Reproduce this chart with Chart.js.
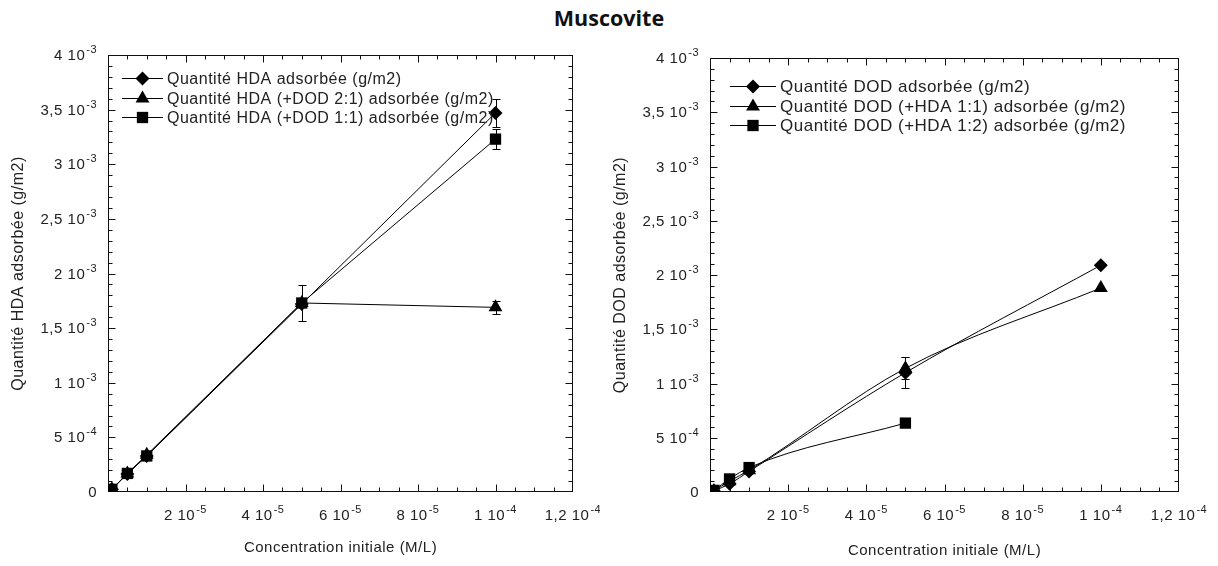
<!DOCTYPE html>
<html lang="fr">
<head>
<meta charset="UTF-8">
<title>Muscovite</title>
<script src="https://cdn.jsdelivr.net/npm/chart.js"></script>
<style>
  body { margin: 0; background: #fff; width: 1218px; height: 566px; position: relative; overflow: hidden; }
  h1 { position: absolute; top: 0; left: 0; width: 1218px; margin: 0; text-align: center;
       font: bold 21.5px "Open Sans", sans-serif; line-height: 36px; color: #111; }
  .graphe { position: absolute; top: 40px; height: 526px; }
  #gauche { left: 0; width: 600px; }
  #droite { left: 600px; width: 618px; }
</style>
</head>
<body>
<h1>Muscovite</h1>
<div class="graphe" id="gauche"><canvas id="chartHDA"></canvas></div>
<div class="graphe" id="droite"><canvas id="chartDOD"></canvas></div>

<script>
// concentrations initiales (M/L)
const concentrations = [1e-6, 5e-6, 1e-5, 5e-5, 1e-4];

// HDA adsorbée (g/m2)
const hdaSeul  = [2.5e-5, 1.65e-4, 3.3e-4, 1.72e-3, 3.47e-3];
const hdaDod21 = [2.5e-5, 1.7e-4, 3.4e-4, 1.73e-3, 1.69e-3];
const hdaDod11 = [2.5e-5, 1.7e-4, 3.3e-4, 1.73e-3, 3.23e-3];
const errHdaSeul  = [0, 0, 0, 0, 1.3e-4];
const errHdaDod21 = [0, 0, 0, 0, 6e-5];
const errHdaDod11 = [0, 0, 0, 1.65e-4, 9e-5];

// DOD adsorbée (g/m2)
const dodSeul  = [1e-5, 7.5e-5, 1.9e-4, 1.1e-3, 2.09e-3];
const dodHda11 = [1e-5, 1.0e-4, 2.0e-4, 1.14e-3, 1.88e-3];
const dodHda12 = [1.5e-5, 1.2e-4, 2.25e-4, 6.35e-4];
const errDodSeul  = [0, 0, 0, 1.4e-4, 0];
const errDodHda11 = [0, 0, 0, 1.0e-4, 0];

const legendeHDA = ["Quantité HDA adsorbée (g/m2)", "Quantité HDA (+DOD 2:1) adsorbée (g/m2)", "Quantité HDA (+DOD 1:1) adsorbée (g/m2)"];
const legendeDOD = ["Quantité DOD adsorbée (g/m2)", "Quantité DOD (+HDA 1:1) adsorbée (g/m2)", "Quantité DOD (+HDA 1:2) adsorbée (g/m2)"];

const xTicks = { min: 0, max: 1.2e-4, pas: 2e-5, mineur: 5e-6 };
const yTicks = { min: 0, max: 4e-3, pas: 5e-4, mineur: 1e-4 };

const POLICE = '"Liberation Sans", Arial, sans-serif';
const TEXTE = '#222';

// "3,5 10-3" -> mantisse + exposant (en exposant)
function notation(v) {
  if (Math.abs(v) < 1e-12) return ['0', ''];
  const e = Math.floor(Math.log10(Math.abs(v)) + 1e-9);
  const m = Math.round(v / Math.pow(10, e) * 10) / 10;
  return [String(m).replace('.', ',') + ' 10', String(e)];
}

function marqueur(ctx, style, x, y, r) {
  ctx.beginPath();
  if (style === 'rectRot') {
    ctx.moveTo(x - r, y); ctx.lineTo(x, y - r); ctx.lineTo(x + r, y); ctx.lineTo(x, y + r);
  } else if (style === 'triangle') {
    let a = 0;
    for (let k = 0; k < 3; k++) {
      const px = x + Math.sin(a) * r, py = y - Math.cos(a) * r;
      k ? ctx.lineTo(px, py) : ctx.moveTo(px, py);
      a += 2 * Math.PI / 3;
    }
  } else {
    const s = r * Math.SQRT1_2;
    ctx.rect(x - s, y - s, 2 * s, 2 * s);
  }
  ctx.closePath();
  ctx.fill();
}

// un peu d'espacement des lettres, comme dans l'original
const espacement = {
  id: 'espacement',
  beforeDraw(chart) { chart.ctx.letterSpacing = '0.5px'; }
};

// cadre + graduations vers l'intérieur sur les quatre côtés
const cadre = {
  id: 'cadre',
  beforeDatasetsDraw(chart) {
    const { ctx, chartArea: a, scales: { x, y } } = chart;
    ctx.save();
    ctx.strokeStyle = '#111';
    ctx.lineWidth = 1;
    const L = Math.round(a.left) + 0.5, R = Math.round(a.right) - 0.5;
    const T = Math.round(a.top) + 0.5, B = Math.round(a.bottom) - 0.5;
    ctx.strokeRect(L, T, R - L, B - T);
    ctx.beginPath();
    const nx = Math.round((xTicks.max - xTicks.min) / xTicks.mineur);
    const kx = Math.round(xTicks.pas / xTicks.mineur);
    for (let i = 1; i < nx; i++) {
      const px = Math.round(x.getPixelForValue(xTicks.min + i * xTicks.mineur)) + 0.5;
      const l = i % kx === 0 ? 7 : 4;
      ctx.moveTo(px, B); ctx.lineTo(px, B - l);
      ctx.moveTo(px, T); ctx.lineTo(px, T + l);
    }
    const ny = Math.round((yTicks.max - yTicks.min) / yTicks.mineur);
    const ky = Math.round(yTicks.pas / yTicks.mineur);
    for (let i = 1; i < ny; i++) {
      const py = Math.round(y.getPixelForValue(yTicks.min + i * yTicks.mineur)) + 0.5;
      const l = i % ky === 0 ? 7 : 4;
      ctx.moveTo(L, py); ctx.lineTo(L + l, py);
      ctx.moveTo(R, py); ctx.lineTo(R - l, py);
    }
    ctx.stroke();
    ctx.restore();
  }
};

// étiquettes des graduations avec exposant
const etiquettes = {
  id: 'etiquettes',
  afterDraw(chart) {
    const { ctx, chartArea: a, scales: { x, y } } = chart;
    ctx.save();
    ctx.fillStyle = TEXTE;
    ctx.letterSpacing = '0.5px';
    ctx.textBaseline = 'alphabetic';
    ctx.textAlign = 'left';
    const ecrire = (txt, px, base, ancre) => {
      ctx.font = '15px ' + POLICE;
      const w1 = ctx.measureText(txt[0]).width;
      ctx.font = '11px ' + POLICE;
      const w2 = txt[1] ? ctx.measureText(txt[1]).width + 1 : 0;
      const x0 = ancre === 'centre' ? px - (w1 + w2) / 2 : px - (w1 + w2);
      ctx.font = '15px ' + POLICE;
      ctx.fillText(txt[0], x0, base);
      if (txt[1]) {
        ctx.font = '11px ' + POLICE;
        ctx.fillText(txt[1], x0 + w1 + 1, base - 7);
      }
    };
    x.ticks.forEach(t => {
      if (Math.abs(t.value) < 1e-12) return;
      ecrire(notation(t.value), x.getPixelForValue(t.value), a.bottom + 28, 'centre');
    });
    y.ticks.forEach(t => {
      ecrire(notation(t.value), a.left - 11, y.getPixelForValue(t.value) + 5, 'droite');
    });
    ctx.restore();
  }
};

// barres d'erreur
const barres = {
  id: 'barres',
  afterDatasetsDraw(chart) {
    const { ctx, scales: { x, y } } = chart;
    ctx.save();
    ctx.strokeStyle = '#000';
    ctx.lineWidth = 1;
    ctx.beginPath();
    chart.data.datasets.forEach(ds => {
      (ds.erreurs || []).forEach((e, i) => {
        if (!e) return;
        const p = ds.data[i];
        const px = Math.round(x.getPixelForValue(p.x)) + 0.5;
        const haut = Math.round(y.getPixelForValue(p.y + e)) + 0.5;
        const bas = Math.round(y.getPixelForValue(p.y - e)) + 0.5;
        ctx.moveTo(px, haut); ctx.lineTo(px, bas);
        ctx.moveTo(px - 4, haut); ctx.lineTo(px + 4, haut);
        ctx.moveTo(px - 4, bas); ctx.lineTo(px + 4, bas);
      });
    });
    ctx.stroke();
    ctx.restore();
  }
};

// légende dans la zone du graphe : trait + symbole
const legende = {
  id: 'legende',
  afterDraw(chart, args, o) {
    const { ctx, chartArea: a } = chart;
    ctx.save();
    ctx.font = o.taille + 'px ' + POLICE;
    ctx.letterSpacing = '0.5px';
    ctx.textBaseline = 'middle';
    chart.data.datasets.forEach((ds, i) => {
      const y = Math.round(a.top + o.y + i * o.pas) + 0.5;
      const x0 = a.left + o.x;
      ctx.strokeStyle = '#000';
      ctx.lineWidth = 1;
      ctx.beginPath();
      ctx.moveTo(x0, y); ctx.lineTo(x0 + o.ligne, y);
      ctx.stroke();
      ctx.fillStyle = '#000';
      marqueur(ctx, ds.pointStyle, x0 + o.ligne / 2, y, ds.pointRadius);
      ctx.fillStyle = TEXTE;
      ctx.fillText(ds.label, x0 + o.ligne + 4, y + 1);
    });
    ctx.restore();
  }
};

function serie(label, valeurs, erreurs, style, rayon, courbe) {
  return {
    label: label,
    data: valeurs.map((v, i) => ({ x: concentrations[i], y: v })),
    erreurs: erreurs,
    borderColor: '#000',
    backgroundColor: '#000',
    borderWidth: 1,
    pointStyle: style,
    pointRadius: rayon,
    pointBorderWidth: 0,
    pointBackgroundColor: '#000',
    tension: 0,
    cubicInterpolationMode: courbe ? 'monotone' : 'default'
  };
}

function graphe(id, datasets, titreY, opt) {
  return new Chart(document.getElementById(id), {
    type: 'line',
    data: { datasets: datasets },
    options: {
      responsive: true,
      maintainAspectRatio: false,
      animation: false,
      layout: { padding: { top: opt.haut, right: opt.droite, left: 0, bottom: 0 } },
      scales: {
        x: {
          type: 'linear',
          min: xTicks.min, max: xTicks.max,
          grid: { display: false, drawTicks: false },
          border: { display: false },
          ticks: { stepSize: xTicks.pas, display: false },
          title: { display: true, text: 'Concentration initiale (M/L)', color: TEXTE,
                   font: { family: POLICE, size: 15 }, padding: { top: 0, bottom: opt.titreX } },
          afterFit: s => { s.height = 74; s.paddingLeft = 0; s.paddingRight = 0; }
        },
        y: {
          type: 'linear',
          min: yTicks.min, max: yTicks.max,
          grid: { display: false, drawTicks: false },
          border: { display: false },
          ticks: { stepSize: yTicks.pas, display: false },
          title: { display: true, text: titreY, color: TEXTE,
                   font: { family: POLICE, size: 16 }, padding: { top: opt.titreY, bottom: 0 } },
          afterFit: s => { s.width = opt.largeurY; s.paddingTop = 0; s.paddingBottom = 0; }
        }
      },
      plugins: {
        legend: { display: false },
        tooltip: { enabled: false },
        legende: opt.legende
      }
    },
    plugins: [espacement, cadre, barres, etiquettes, legende]
  });
}

graphe('chartHDA', [
  serie(legendeHDA[0], hdaSeul, errHdaSeul, 'rectRot', 7, false),
  serie(legendeHDA[1], hdaDod21, errHdaDod21, 'triangle', 8, false),
  serie(legendeHDA[2], hdaDod11, errHdaDod11, 'rect', 8, false)
], 'Quantité HDA adsorbée (g/m2)', {
  haut: 15, droite: 27, largeurY: 108, titreY: 8.5, titreX: 9,
  legende: { x: 14, y: 23, pas: 19.5, ligne: 41, taille: 16 }
});

graphe('chartDOD', [
  serie(legendeDOD[0], dodSeul, errDodSeul, 'rectRot', 7, true),
  serie(legendeDOD[1], dodHda11, errDodHda11, 'triangle', 8, true),
  serie(legendeDOD[2], dodHda12, [], 'rect', 8, true)
], 'Quantité DOD adsorbée (g/m2)', {
  haut: 18, droite: 39, largeurY: 110, titreY: 10.5, titreX: 6,
  legende: { x: 20, y: 28, pas: 19.5, ligne: 46, taille: 17 }
});
</script>
</body>
</html>
